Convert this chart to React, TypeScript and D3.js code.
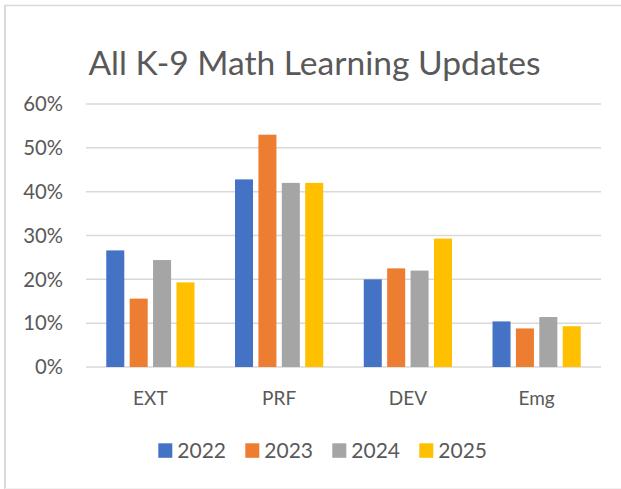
import React from "react";
import * as d3 from "d3";

const categories = ["EXT", "PRF", "DEV", "Emg"];
const years = ["2022", "2023", "2024", "2025"];
const values2022 = [26.6, 42.8, 20.0, 10.4];
const values2023 = [15.6, 53.0, 22.5, 8.8];
const values2024 = [24.4, 42.0, 22.0, 11.4];
const values2025 = [19.3, 42.0, 29.3, 9.3];
const seriesValues = [values2022, values2023, values2024, values2025];
const colors = ["#4472C4", "#ED7D31", "#A5A5A5", "#FFC000"];
const yTicks = [0, 10, 20, 30, 40, 50, 60];
const title = "All K-9 Math Learning Updates";

const W = 621;
const H = 489;
const FONT = "Lato, 'Open Sans', sans-serif";
const TXT = "#595959";

export default function App() {
  const x = d3.scaleBand<string>().domain(categories).range([86, 601]);
  const sub = d3
    .scaleBand<string>()
    .domain(years)
    .range([0, 93.6])
    .paddingInner(0.23)
    .paddingOuter(0.115);
  const y = d3.scaleLinear().domain([0, 60]).range([367, 104]);

  return (
    <svg
      width={W}
      height={H}
      style={{ position: "absolute", left: 0, top: 0, display: "block" }}
      fontFamily={FONT}
    >
      <rect x={0} y={0} width={W} height={H} fill="#fff" />
      <line x1={4} x2={W} y1={5.5} y2={5.5} stroke="#d9d9d9" strokeWidth={1.5} />
      <line x1={5} x2={5} y1={5} y2={H} stroke="#d9d9d9" strokeWidth={2} />
      <line x1={5} x2={W} y1={488.5} y2={488.5} stroke="#f2f2f2" strokeWidth={1} />
      <text x={314.5} y={75} textAnchor="middle" fontSize={33.6} fill={TXT}>
        {title}
      </text>
      {yTicks.map((t) => (
        <g key={t}>
          <line x1={86} x2={601} y1={y(t)} y2={y(t)} stroke="#d9d9d9" strokeWidth={1.5} />
          <text x={63} y={y(t)} dy="0.36em" textAnchor="end" fontSize={20.3} fill={TXT}>
            {t}%
          </text>
        </g>
      ))}
      {categories.map((c, ci) => {
        const cx = (x(c) as number) + x.bandwidth() / 2;
        const off = cx - 93.6 / 2;
        return (
          <g key={c}>
            {years.map((yr, si) => {
              const v = seriesValues[si][ci];
              return (
                <rect
                  key={yr}
                  x={off + (sub(yr) as number)}
                  y={y(v)}
                  width={sub.bandwidth()}
                  height={y(0) - y(v)}
                  fill={colors[si]}
                />
              );
            })}
            <text x={cx} y={404.5} textAnchor="middle" fontSize={19} fill={TXT}>
              {c}
            </text>
          </g>
        );
      })}
      {years.map((yr, i) => (
        <g key={yr} transform={`translate(${158.3 + i * 87},0)`}>
          <rect x={0} y={443.3} width={14} height={14.5} fill={colors[i]} />
          <text x={19} y={458.3} fontSize={21} fill={TXT}>
            {yr}
          </text>
        </g>
      ))}
    </svg>
  );
}
